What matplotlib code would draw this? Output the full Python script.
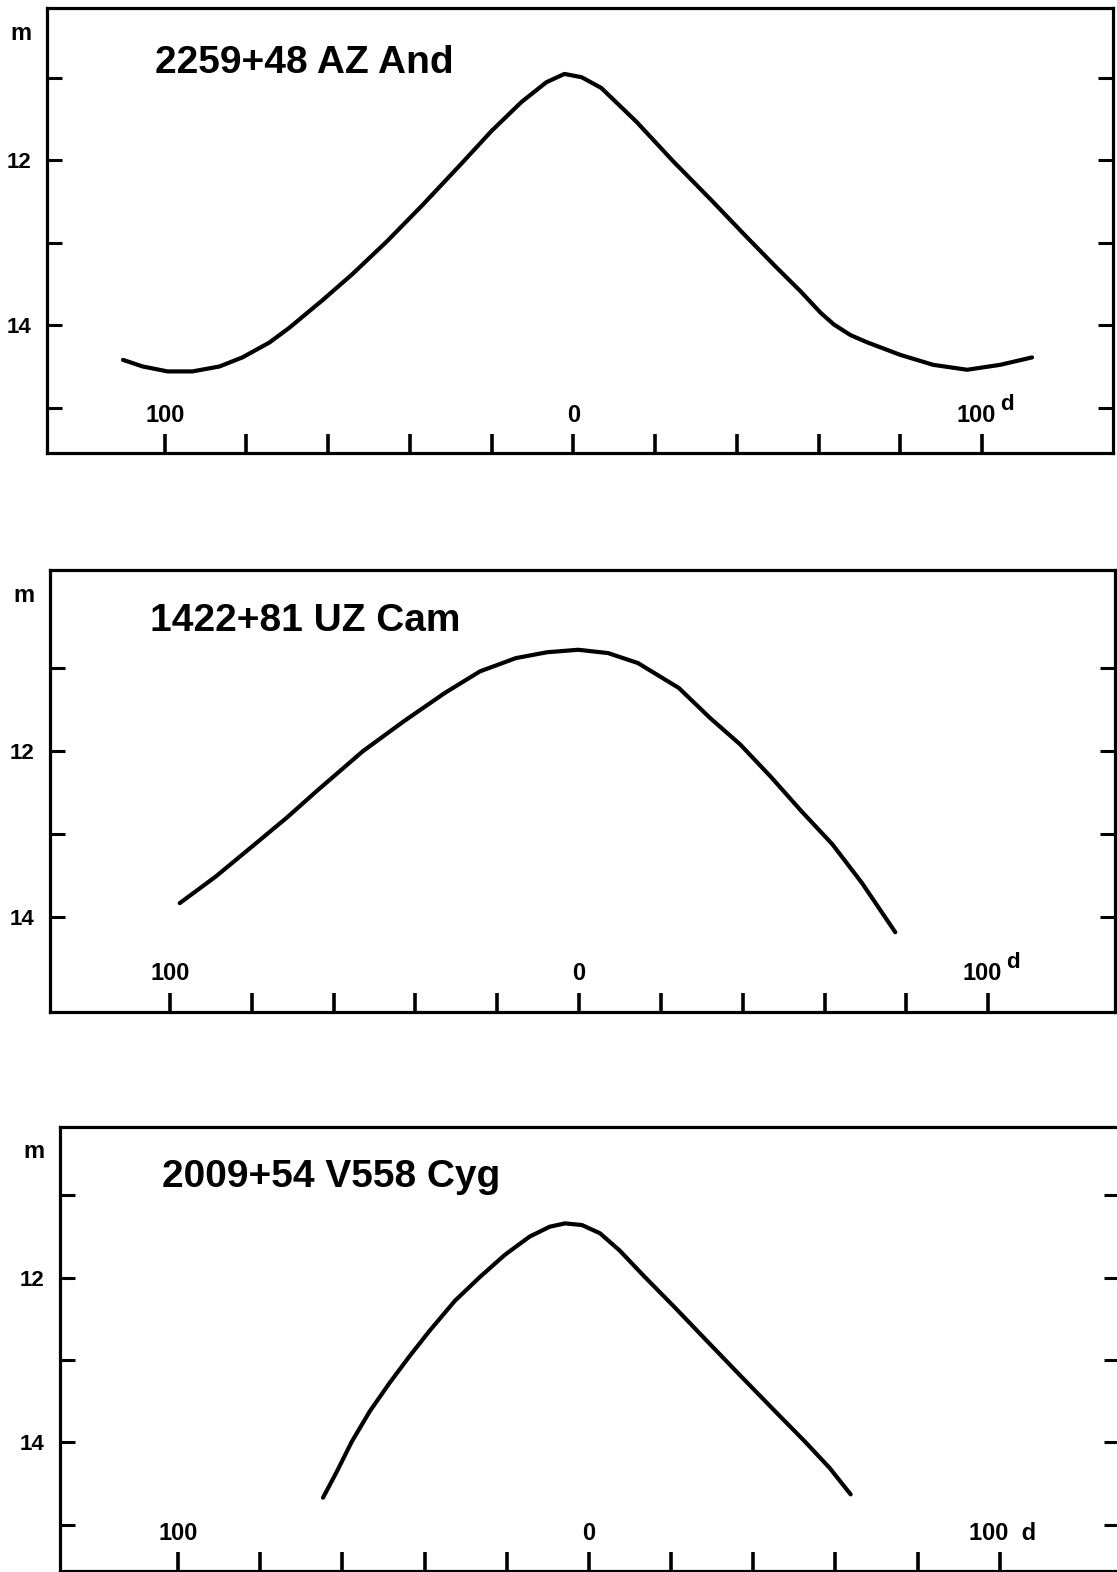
import numpy as np
import matplotlib
matplotlib.use("Agg")
import matplotlib.pyplot as plt

plt.rcParams['font.family'] = ['Liberation Sans', 'DejaVu Sans']

# light curves: days from maximum, magnitude
az_days = [-110.2, -105.4, -99.3, -93.2, -86.6, -81.0, -74.4, -69.5, -61.5, -54.1, -45.6,
           -37.1, -28.0, -20.0, -12.7, -6.6, -2.2, 2.0, 6.8, 15.4, 24.4, 33.7, 42.2, 49.5,
           55.6, 60.5, 63.7, 67.8, 72.0, 80.0, 88.0, 96.3, 104.4, 112.2]
az_mag = [14.42, 14.50, 14.56, 14.56, 14.50, 14.39, 14.21, 14.03, 13.70, 13.38, 12.98,
          12.55, 12.07, 11.64, 11.29, 11.05, 10.95, 10.99, 11.12, 11.53, 12.01, 12.48, 12.92,
          13.29, 13.59, 13.85, 13.99, 14.12, 14.21, 14.36, 14.48, 14.54, 14.48, 14.39]

uz_days = [-97.6, -88.8, -80.2, -71.4, -64.1, -52.8, -42.8, -32.8, -24.2, -15.4, -7.8, -0.2,
           7.1, 14.4, 24.4, 32.0, 39.4, 46.9, 54.3, 61.9, 69.2, 77.3]
uz_mag = [13.83, 13.51, 13.16, 12.80, 12.48, 12.00, 11.64, 11.30, 11.04, 10.88, 10.81, 10.78,
          10.82, 10.94, 11.24, 11.60, 11.92, 12.31, 12.72, 13.12, 13.59, 14.18]

v558_days = [-64.7, -61.3, -57.7, -53.3, -48.4, -43.6, -38.7, -32.6, -26.5, -20.4, -14.4,
             -9.5, -5.8, -1.7, 2.7, 7.5, 13.6, 20.9, 28.2, 36.7, 45.3, 52.6, 58.6, 63.7]
v558_mag = [14.67, 14.35, 13.99, 13.62, 13.27, 12.95, 12.64, 12.28, 11.99, 11.72, 11.50,
            11.38, 11.34, 11.36, 11.46, 11.67, 11.99, 12.36, 12.74, 13.18, 13.62, 13.99,
            14.31, 14.63]

names = ['2259+48 AZ And', '1422+81 UZ Cam', '2009+54 V558 Cyg']
xtick_days = [-100, -80, -60, -40, -20, 0, 20, 40, 60, 80, 100]

W, H = 1117, 1572
fig = plt.figure(figsize=(W / 100, H / 100), dpi=100)


def px_axes(left, right, top, bottom):
    return fig.add_axes([left / W, 1 - bottom / H, (right - left) / W, (bottom - top) / H])


panels = [
    # box in pixels, xlim, ylim, y ticks, title pos
    dict(box=(47, 1113, 8, 453), xlim=(-128.8, 132), ylim=(15.55, 10.15),
         yt=[11, 12, 13, 14, 15], tpos=(155, 63), d='sup'),
    dict(box=(50, 1115, 570, 1012), xlim=(-129.3, 131), ylim=(15.14, 9.82),
         yt=[11, 12, 13, 14], tpos=(150, 621), d='sup'),
    dict(box=(60, 1119, 1127, 1571), xlim=(-128.7, 129), ylim=(15.56, 10.17),
         yt=[11, 12, 13, 14, 15], tpos=(162, 1177), d='plain'),
]
curves = [(az_days, az_mag), (uz_days, uz_mag), (v558_days, v558_mag)]

for i, p in enumerate(panels):
    left, right, top, bottom = p['box']
    ax = px_axes(left, right, top, bottom)
    days, mag = curves[i]
    ax.plot(days, mag, color='black', linewidth=3.0, solid_capstyle='round',
            solid_joinstyle='round')
    ax.set_xlim(*p['xlim'])
    ax.set_ylim(*p['ylim'])

    for s in ax.spines.values():
        s.set_linewidth(2.3)

    ax.set_yticks(p['yt'])
    ax.set_yticklabels(['12' if v == 12 else '14' if v == 14 else '' for v in p['yt']],
                       fontsize=16, fontweight='bold')
    ax.tick_params(axis='y', which='both', direction='in', length=11, width=2.2,
                   left=True, right=True, pad=11)
    ax.set_xticks(xtick_days)
    ax.set_xticklabels([])
    ax.tick_params(axis='x', direction='in', length=14, width=2.6, bottom=True, top=False)

    # "m" above the y tick labels
    fig.text(21 / W + (left - 47) / W, 1 - (top + 25) / H, 'm', fontsize=17,
             fontweight='bold', ha='center', va='center')

    fig.text(p['tpos'][0] / W, 1 - p['tpos'][1] / H, names[i], fontsize=28,
             fontweight='bold', ha='left', va='center')

    # day labels sit inside the box, above the ticks
    ly = 38 / (bottom - top)
    tr = ax.get_xaxis_transform()
    ax.text(-100, ly, '100', transform=tr, fontsize=17, fontweight='bold',
            ha='center', va='center')
    ax.text(0, ly, '0', transform=tr, fontsize=17, fontweight='bold',
            ha='center', va='center')
    if p['d'] == 'sup':
        ax.text(98.5, ly, '100', transform=tr, fontsize=17, fontweight='bold',
                ha='center', va='center')
        ax.text(104.5, ly + 11 / (bottom - top), 'd', transform=tr, fontsize=16,
                fontweight='bold', ha='left', va='center')
    else:
        ax.text(92.5, ly, '100  d', transform=tr, fontsize=17, fontweight='bold',
                ha='left', va='center')

fig.savefig('out.png', dpi=100)
